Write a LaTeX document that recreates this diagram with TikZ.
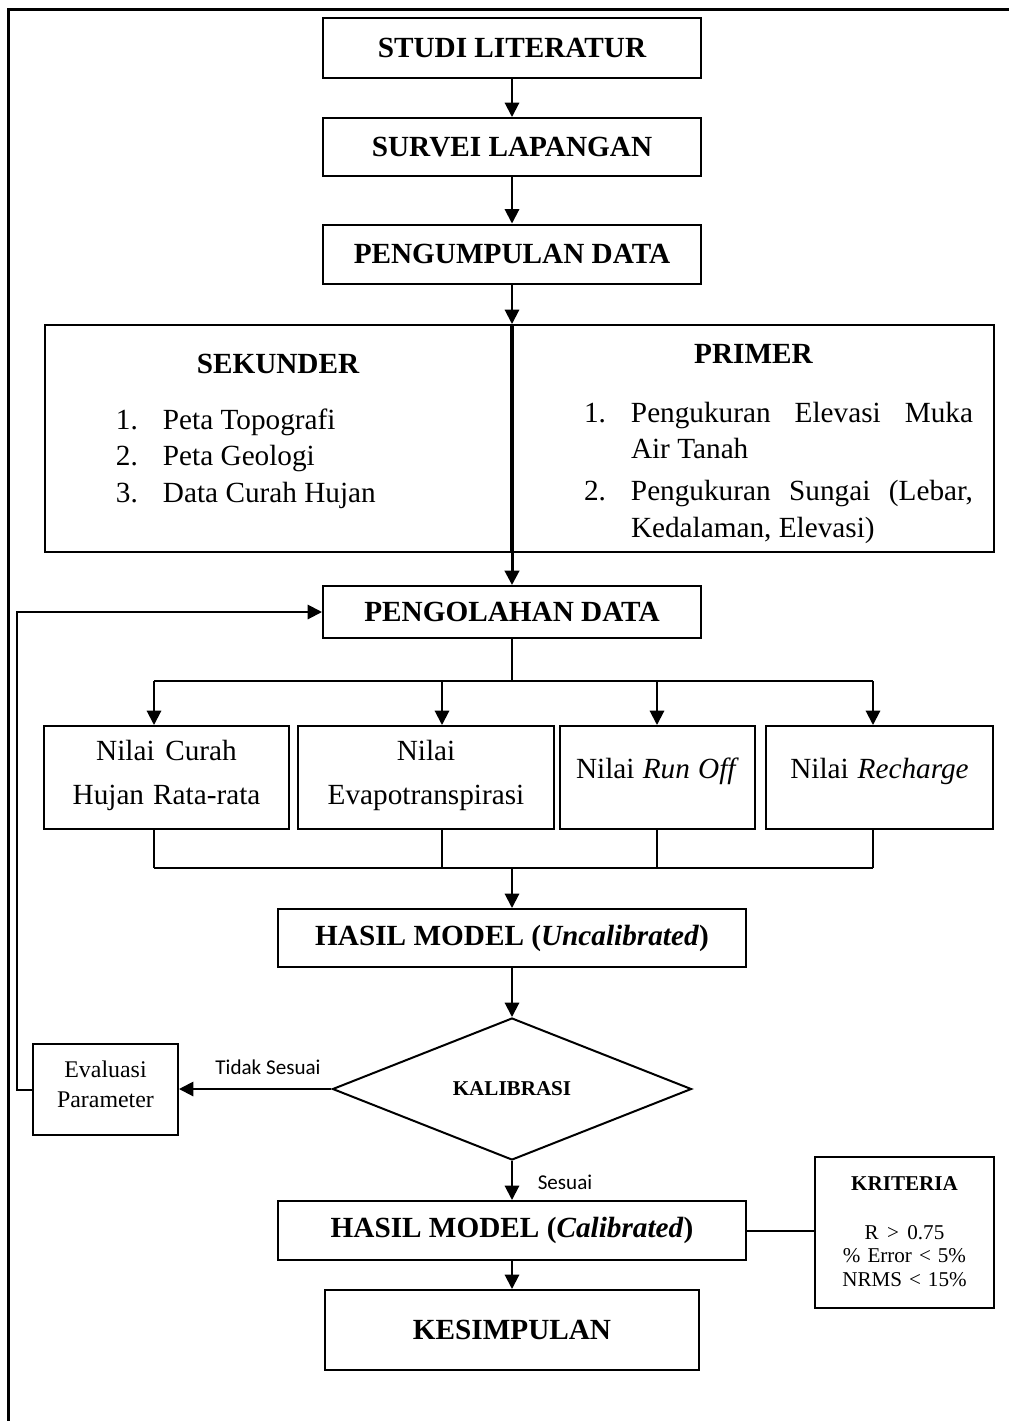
\documentclass[tikz,border=0pt]{standalone}
\usepackage{fontspec}
\setmainfont{Liberation Serif}
\newfontfamily\calibri{Carlito}
\usetikzlibrary{arrows.meta,shapes.geometric}

\begin{document}
\begin{tikzpicture}[x=0.25mm, y=-0.25mm, font=\fontsize{20.8pt}{26pt}\selectfont,
	every node/.append style={execute at begin node={\spaceskip=0pt\xspaceskip=0pt}},
	box/.style={draw, line width=0.5mm, rectangle, inner sep=0pt, align=center},
	arr/.style={line width=0.5mm, -{Triangle[length=3.6mm,width=3.6mm]}},
	link/.style={line width=0.5mm}]
	\useasboundingbox (0,0) rectangle (1009,1421);

	% Frame
	\draw[line width=0.75mm] (1009,9) -- (8,9) -- (8,1421);

	% Main steps
	\node[box, minimum width=94.5mm, minimum height=15mm] (studi) at (512,48) {\bfseries STUDI LITERATUR};
	\node[box, minimum width=94.5mm, minimum height=14.5mm] (survei) at (512,147) {\bfseries SURVEI LAPANGAN};
	\node[box, minimum width=94.5mm, minimum height=14.75mm] (kumpul) at (512,254) {\bfseries PENGUMPULAN DATA};

	% Data
	\node[box, anchor=north east, text width=116.5mm, align=left, text height=12.2mm, text depth=44.6mm] (sek) at (512,324) {%
		\makebox[\linewidth]{\bfseries SEKUNDER}\\[4.75mm]
		\hspace*{17.75mm}\makebox[11.75mm][l]{1.}Peta Topografi\\
		\hspace*{17.75mm}\makebox[11.75mm][l]{2.}Peta Geologi\\
		\hspace*{17.75mm}\makebox[11.75mm][l]{3.}Data Curah Hujan};
	\node[box, anchor=north west, text width=120.25mm, align=left, text height=9.7mm, text depth=47.1mm] (pri) at (512,324) {%
		\makebox[\linewidth]{\bfseries PRIMER}\\[5.45mm]
		\hspace*{17.75mm}\makebox[11.75mm][l]{1.}\makebox[85.5mm][s]{Pengukuran Elevasi Muka}\\
		\hspace*{29.5mm}Air Tanah\\[1.35mm]
		\hspace*{17.75mm}\makebox[11.75mm][l]{2.}\makebox[85.5mm][s]{Pengukuran Sungai (Lebar,}\\
		\hspace*{29.5mm}Kedalaman, Elevasi)};

	\node[box, minimum width=94.5mm, minimum height=13mm] (olah) at (512,612) {\bfseries PENGOLAHAN DATA};

	% Parameters
	\node[box, anchor=north, text width=61.25mm, text height=8.5mm, text depth=17.25mm] (curah) at (166.5,725) {Nilai Curah\\[2.1mm]Hujan Rata-rata};
	\node[box, anchor=north, text width=64mm, text height=8.5mm, text depth=17.25mm] (evapo) at (426,725) {Nilai\\[2.1mm]Evapotranspirasi};
	\node[box, anchor=north, text width=48.75mm, text height=13mm, text depth=12.75mm] (runoff) at (657.5,725) {Nilai \textit{Run Off}};
	\node[box, anchor=north, text width=56.75mm, text height=13mm, text depth=12.75mm] (recharge) at (879.5,725) {Nilai \textit{Recharge}};

	\node[box, minimum width=117mm, minimum height=14.5mm] (hasil1) at (512,938) {\bfseries HASIL MODEL (\textit{Uncalibrated})};

	% Calibration
	\node[draw, diamond, line width=0.5mm, inner sep=0pt, minimum width=89.75mm, minimum height=35.5mm,
		font=\fontsize{15pt}{18pt}\selectfont\bfseries] (kal) at (512,1089) {KALIBRASI};
	\node[box, anchor=north, text width=36.25mm, text height=8.25mm, text depth=14.5mm,
		font=\fontsize{17pt}{22pt}\selectfont] (eval) at (105.5,1043) {Evaluasi\\Parameter};
	\node[font=\calibri\fontsize{15pt}{18pt}\selectfont] (tidak) at (268,1067) {Tidak Sesuai};
	\node[font=\calibri\fontsize{15pt}{18pt}\selectfont] (sesuai) at (565,1182) {Sesuai};

	\node[box, minimum width=117mm, minimum height=14.75mm] (hasil2) at (512,1230.5) {\bfseries HASIL MODEL (\textit{Calibrated})};
	\node[box, anchor=north, text width=44.75mm, text height=8.25mm, text depth=29.5mm,
		font=\fontsize{15pt}{16.7pt}\selectfont] (krit) at (904.5,1156) {\textbf{KRITERIA}\\[6.4mm]R > 0.75\\\% Error < 5\%\\NRMS < 15\%};
	\node[box, minimum width=93.25mm, minimum height=20mm] (simpul) at (512,1330) {\bfseries KESIMPULAN};

	% Connections
	\draw[arr] (studi) -- (survei);
	\draw[arr] (survei) -- (kumpul);
	\draw[arr] (kumpul) -- (sek.north east);
	\draw[arr, line width=0.75mm] (sek.north east) -- (olah);

	\coordinate (tc) at (512,681);
	\coordinate (t1) at (154,681);
	\coordinate (t2) at (442,681);
	\coordinate (t3) at (657,681);
	\coordinate (t4) at (873,681);
	\draw[link] (olah) -- (tc);
	\draw[link] (t1) -- (t4);
	\draw[arr] (t1) -- (t1 |- curah.north);
	\draw[arr] (t2) -- (t2 |- evapo.north);
	\draw[arr] (t3) -- (t3 |- runoff.north);
	\draw[arr] (t4) -- (t4 |- recharge.north);

	\coordinate (bc) at (512,868);
	\coordinate (b1) at (154,868);
	\coordinate (b2) at (442,868);
	\coordinate (b3) at (657,868);
	\coordinate (b4) at (873,868);
	\draw[link] (b1 |- curah.south) -- (b1);
	\draw[link] (b2 |- evapo.south) -- (b2);
	\draw[link] (b3 |- runoff.south) -- (b3);
	\draw[link] (b4 |- recharge.south) -- (b4);
	\draw[link] (b1) -- (b4);
	\draw[arr] (bc) -- (hasil1);

	\draw[arr] (hasil1) -- (kal);
	\draw[arr] (kal.west) -- (kal.west -| eval.east);
	\coordinate (fb) at (17,0);
	\draw[arr] (eval.west) -- (eval.west -| fb) |- (olah.west);
	\draw[arr] (kal.south) -- (hasil2);
	\draw[link] (hasil2.east) -- (hasil2.east -| krit.west);
	\draw[arr] (hasil2) -- (simpul);
\end{tikzpicture}
\end{document}
